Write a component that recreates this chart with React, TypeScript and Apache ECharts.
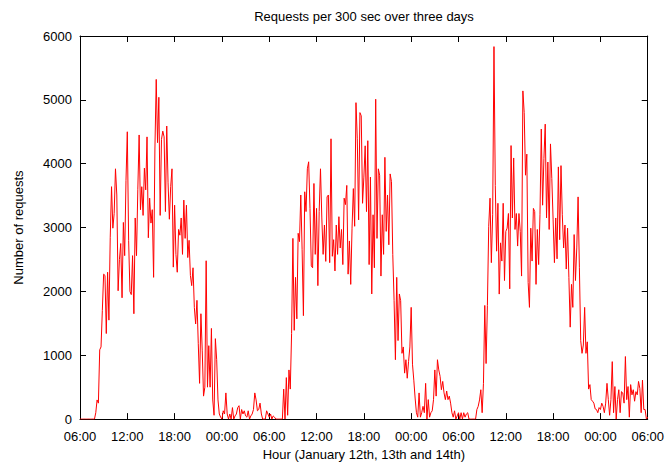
import React, { useEffect, useRef } from "react";
import * as echarts from "echarts";

// Minutes between consecutive samples in each day array.
const STEP_MIN = 10;

// Requests per sample, each day starting at 06:00 (Jan 12th, 13th, 14th).
const day1 = [
  0, 0, 0, 0, 0, 0, 0, 0, 0, 0, 0, 0,
  100, 300, 250, 1085, 1130, 1700, 2270, 2250, 1340, 2300, 1550, 2840,
  3640, 2990, 3220, 3920, 3510, 2010, 2500, 2750, 1900, 3080, 2560, 3740,
  4500, 2800, 2000, 1950, 2560, 1650, 3150, 2560, 3600, 4450, 3280, 3640,
  3190, 3930, 3590, 4420, 2840, 3460, 3070, 3280, 2220, 4230, 5320, 4330,
  5040, 3190, 4380, 4510, 4420, 3250, 4590, 3700, 3130, 3640, 3920, 2380,
  3350, 2580, 2300, 2970, 2880, 3150, 2580, 3430, 2830, 3350, 2530, 2800,
  2250, 2090, 2370, 1750, 1490, 1860, 1180, 560, 1650, 1080, 360, 500,
  2480, 500, 1150, 500, 1420, 300, 60, 1260, 930, 300, 80, 30,
  0, 130, 80, 410, 80, 0, 80, 0, 180, 0, 50, 80,
  180, 210, 0, 150, 80, 130, 50, 30, 130, 0, 50, 80,
  150, 410, 300, 130, 150, 250, 80, 0, 0, 0, 130, 80,
];

const day2 = [
  30, 80, 0, 50, 30, 0, 0, 0, 0, 0, 0, 470,
  0, 650, 60, 770, 470, 1340, 2830, 1390, 2220, 1570, 2910, 2780,
  3510, 2660, 1620, 3560, 3250, 3920, 4030, 3300, 2400, 2370, 3690, 2580,
  3300, 2090, 3250, 3920, 3150, 2580, 3040, 2470, 3480, 3510, 2450, 4390,
  2550, 2810, 2320, 3040, 2580, 3170, 2680, 2970, 2420, 3460, 3360, 3660,
  2270, 2790, 2110, 2990, 3610, 3020, 4956, 4390, 3120, 4800, 4750, 3380,
  3790, 4280, 3250, 4360, 2420, 3790, 1960, 3200, 2370, 5010, 2830, 3920,
  3820, 2240, 3200, 2580, 4100, 2940, 3510, 2730, 3840, 3720, 2580, 1855,
  930, 2220, 1230, 1960, 1855, 1030, 1130, 720, 930, 640, 900, 1130,
  1750, 860, 610, 330, 100, 30, 410, 30, 100, 200, 100, 560,
  0, 305, 30, 100, 130, 305, 770, 360, 930, 770, 670, 460,
  590, 410, 305, 440, 305, 360, 250, 100, 30, 130, 0, 50,
];

const day3 = [
  100, 0, 100, 0, 100, 30, 80, 100, 0, 0, 0, 0,
  0, 0, 150, 200, 300, 460, 100, 560, 1780, 870, 1780, 3020,
  3460, 2450, 3200, 5834, 3660, 2630, 3380, 1958, 2760, 2475, 3380, 2170,
  2940, 2990, 3220, 2040, 4284, 3150, 4090, 2970, 3220, 2710, 3220, 2940,
  2240, 5140, 4800, 3820, 4150, 2140, 1750, 2990, 2475, 3300, 3250, 2110,
  2970, 2420, 3200, 4543, 3350, 4080, 4620, 3150, 4026, 2970, 4310, 3770,
  3120, 2450, 3150, 2510, 3950, 2810, 3970, 3200, 2680, 3040, 2350, 2990,
  2220, 1440, 2110, 1750, 2890, 2170, 2680, 3480, 2370, 1230, 1030, 1160,
  1750, 1030, 1210, 470, 540, 305, 280, 250, 160, 150, 100, 180,
  150, 250, 200, 100, 250, 560, 305, 60, 305, 900, 100, 510,
  0, 305, 460, 100, 430, 410, 250, 980, 305, 510, 30, 540,
  380, 460, 280, 430, 380, 590, 480, 100, 610, 150, 150, 0,
  30,
];

const days = [day1, day2, day3];

const TITLE = "Requests per 300 sec over three days";
const X_NAME = "Hour (January 12th, 13th and 14th)";
const Y_NAME = "Number of requests";

const FONT = "'Liberation Sans', Arial, Helvetica, sans-serif";

// Hours since 06:00 on the first day -> "HH:00"
const hourLabel = (v: number) => {
  const h = (6 + Math.round(v)) % 24;
  return String(h).padStart(2, "0") + ":00";
};

export default function App() {
  const ref = useRef<HTMLDivElement>(null);

  useEffect(() => {
    if (!ref.current) return;
    const chart = echarts.init(ref.current, undefined, { renderer: "svg" });

    const points: [number, number][] = [];
    days.forEach((arr, d) =>
      arr.forEach((v, i) => points.push([d * 24 + (i * STEP_MIN) / 60, v]))
    );

    const axisLine = { show: true, onZero: false, lineStyle: { color: "#000", width: 1 } };
    const tick = { show: true, inside: true, length: 6, lineStyle: { color: "#000", width: 1 } };
    const label = { color: "#000", fontFamily: FONT, fontSize: 13 };

    const xBase = { type: "value", min: 0, max: 72, interval: 6, splitLine: { show: false }, axisLine, axisTick: tick };
    const yBase = { type: "value", min: 0, max: 6000, interval: 1000, splitLine: { show: false }, axisLine, axisTick: tick };

    chart.setOption({
      animation: false,
      backgroundColor: "#fff",
      grid: { left: 80, right: 19, top: 36, bottom: 43 },
      graphic: [
        {
          type: "text",
          x: 364,
          y: 16,
          style: {
            text: TITLE,
            font: `13px ${FONT}`,
            fill: "#000",
            textAlign: "center",
            textVerticalAlign: "middle",
          },
        },
      ],
      xAxis: [
        {
          ...xBase,
          position: "bottom",
          axisLabel: { ...label, formatter: hourLabel, margin: 11 },
          name: X_NAME,
          nameLocation: "middle",
          nameGap: 28,
          nameTextStyle: { ...label },
        },
        { ...xBase, position: "top", axisLabel: { show: false } },
      ],
      yAxis: [
        {
          ...yBase,
          position: "left",
          axisLabel: { ...label, margin: 8, formatter: (v: number) => String(v) },
          name: Y_NAME,
          nameLocation: "middle",
          nameGap: 55,
          nameTextStyle: { ...label },
        },
        { ...yBase, position: "right", axisLabel: { show: false } },
      ],
      series: [
        {
          type: "line",
          data: points,
          xAxisIndex: 0,
          yAxisIndex: 0,
          symbol: "none",
          showSymbol: false,
          lineStyle: { color: "#ff0000", width: 1 },
          itemStyle: { color: "#ff0000" },
        },
      ],
    });

    return () => chart.dispose();
  }, []);

  return (
    <div
      ref={ref}
      style={{ position: "fixed", left: 0, top: 0, width: 667, height: 466, background: "#fff" }}
    />
  );
}
